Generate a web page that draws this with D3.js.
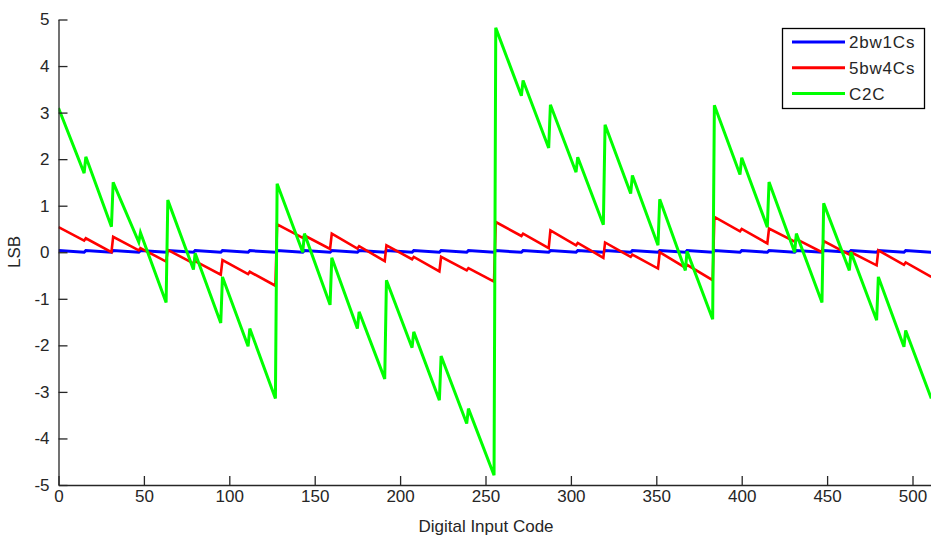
<!DOCTYPE html>
<html>
<head>
<meta charset="utf-8">
<script src="https://cdn.jsdelivr.net/npm/d3@7"></script>
<style>
  body { margin: 0; background: #fff; }
  svg { display: block; font-family: "Liberation Sans", Arial, sans-serif; }
</style>
</head>
<body>
<svg id="chart" width="931" height="538"></svg>
<script>
// values: one start/end value per block of 16 codes
var blueStart = [0.035, 0.035, 0.035, 0.035, 0.035, 0.035, 0.035, 0.035, 0.035, 0.035, 0.035, 0.035, 0.035, 0.035, 0.035, 0.035,
                 0.035, 0.035, 0.035, 0.035, 0.035, 0.035, 0.035, 0.035, 0.035, 0.035, 0.035, 0.035, 0.035, 0.035, 0.035, 0.035]
var blueEnd = [0.0, 0.0, 0.0, 0.0, 0.0, 0.0, 0.0, 0.0, 0.0, 0.0, 0.0, 0.0, 0.0, 0.0, 0.0, 0.0,
               0.0, 0.0, 0.0, 0.0, 0.0, 0.0, 0.0, 0.0, 0.0, 0.0, 0.0, 0.0, 0.0, 0.0, 0.0, 0.0]

var redStart = [0.54, 0.3, 0.33, 0.09, 0.05, -0.19, -0.17, -0.42, 0.6, 0.36, 0.4, 0.13, 0.15, -0.1, -0.1, -0.34,
                0.65, 0.4, 0.47, 0.2, 0.21, -0.05, 0.0, -0.27, 0.76, 0.5, 0.51, 0.28, 0.24, 0.0, 0.04, -0.22]
var redEnd = [0.25, 0.0, 0.04, -0.2, -0.24, -0.48, -0.47, -0.72, 0.31, 0.07, 0.08, -0.19, -0.15, -0.41, -0.39, -0.63,
              0.35, 0.09, 0.15, -0.12, -0.1, -0.35, -0.33, -0.6, 0.45, 0.19, 0.23, 0.0, -0.05, -0.28, -0.27, -0.53]

var greenStart = [3.1, 2.05, 1.5, 0.42, 1.12, -0.02, -0.53, -1.64, 1.47, 0.4, -0.12, -1.28, -0.6, -1.71, -2.23, -3.36,
                  4.82, 3.69, 3.17, 2.04, 2.74, 1.65, 1.14, 0.02, 3.16, 2.03, 1.51, 0.4, 1.05, 0.0, -0.53, -1.68]
var greenEnd = [1.7, 0.55, 0.22, -1.08, -0.37, -1.52, -2.02, -3.14, 0.0, -1.13, -1.64, -2.72, -2.05, -3.18, -3.68, -4.79,
                3.36, 2.24, 1.72, 0.59, 1.26, 0.15, -0.39, -1.44, 1.67, 0.54, 0.0, -1.08, -0.39, -1.46, -2.03, -3.14]

var xTicks = [0, 50, 100, 150, 200, 250, 300, 350, 400, 450, 500]
var yTicks = [-5, -4, -3, -2, -1, 0, 1, 2, 3, 4, 5]
var names = ["2bw1Cs", "5bw4Cs", "C2C"]
var colors = ["#0000ff", "#ff0000", "#00ff00"]

// turn block start/end values into [code, value] vertices
function blocks(starts, ends, size) {
  var pts = []
  starts.forEach(function(s, i) {
    pts.push([i * size, s])
    pts.push([i * size + size - 1, ends[i]])
  })
  return pts
}

var series = [
  blocks(blueStart, blueEnd, 16),
  blocks(redStart, redEnd, 16),
  blocks(greenStart, greenEnd, 16)
]

var svg = d3.select("#chart")

var x = d3.scaleLinear().domain([0, 512]).range([58.5, 933])
var y = d3.scaleLinear().domain([-5, 5]).range([485, 19.5])

svg.append("clipPath").attr("id", "clip")
  .append("rect")
  .attr("x", x(0)).attr("y", 0)
  .attr("width", x(512) - x(0)).attr("height", 538)

var line = d3.line()
  .x(function(d) { return x(d[0]) })
  .y(function(d) { return y(d[1]) })

svg.append("g").attr("clip-path", "url(#clip)")
  .selectAll("path")
  .data(series)
  .enter().append("path")
  .attr("d", line)
  .attr("fill", "none")
  .attr("stroke", function(d, i) { return colors[i] })
  .attr("stroke-width", function(d, i) { return i == 1 ? 2.6 : 3 })
  .attr("stroke-linejoin", "miter")

// axes, matlab style: ticks pointing inward, plain hyphen for minus
var fmt = function(d) { return String(d) }
var xAxis = d3.axisBottom(x).tickValues(xTicks).tickFormat(fmt).tickSizeInner(-9).tickSizeOuter(0).tickPadding(12)
var yAxis = d3.axisLeft(y).tickValues(yTicks).tickFormat(fmt).tickSizeInner(-9).tickSizeOuter(0).tickPadding(9)

var gx = svg.append("g")
  .attr("transform", "translate(0," + y(-5) + ")")
  .call(xAxis)
var gy = svg.append("g")
  .attr("transform", "translate(" + x(0) + ",0)")
  .call(yAxis)

svg.selectAll(".domain, .tick line").attr("stroke", "#262626").attr("stroke-width", 1.3)
svg.selectAll(".tick text").attr("fill", "#262626").attr("font-size", 17).attr("font-family", "Liberation Sans, Arial, sans-serif")
gx.selectAll(".tick text").attr("dy", "0.71em").attr("y", 5)

svg.append("text")
  .attr("x", 486).attr("y", 532)
  .attr("text-anchor", "middle")
  .attr("font-size", 17).attr("fill", "#262626")
  .text("Digital Input Code")

svg.append("text")
  .attr("transform", "translate(20,252) rotate(-90)")
  .attr("text-anchor", "middle")
  .attr("font-size", 17).attr("fill", "#262626")
  .text("LSB")

// legend
var legend = svg.append("g")
legend.append("rect")
  .attr("x", 782.5).attr("y", 28.5)
  .attr("width", 142).attr("height", 80)
  .attr("fill", "#fff").attr("stroke", "#000").attr("stroke-width", 1.3)

var rows = legend.selectAll(".row")
  .data(names)
  .enter().append("g")
  .attr("class", "row")
  .attr("transform", function(d, i) { return "translate(0," + (42 + i * 25.8) + ")" })

rows.append("line")
  .attr("x1", 792).attr("x2", 845)
  .attr("stroke", function(d, i) { return colors[i] })
  .attr("stroke-width", 3)

rows.append("text")
  .attr("x", 849).attr("dy", "0.36em")
  .attr("font-size", 17).attr("fill", "#262626")
  .attr("letter-spacing", 0.8)
  .text(function(d) { return d })
</script>
</body>
</html>
